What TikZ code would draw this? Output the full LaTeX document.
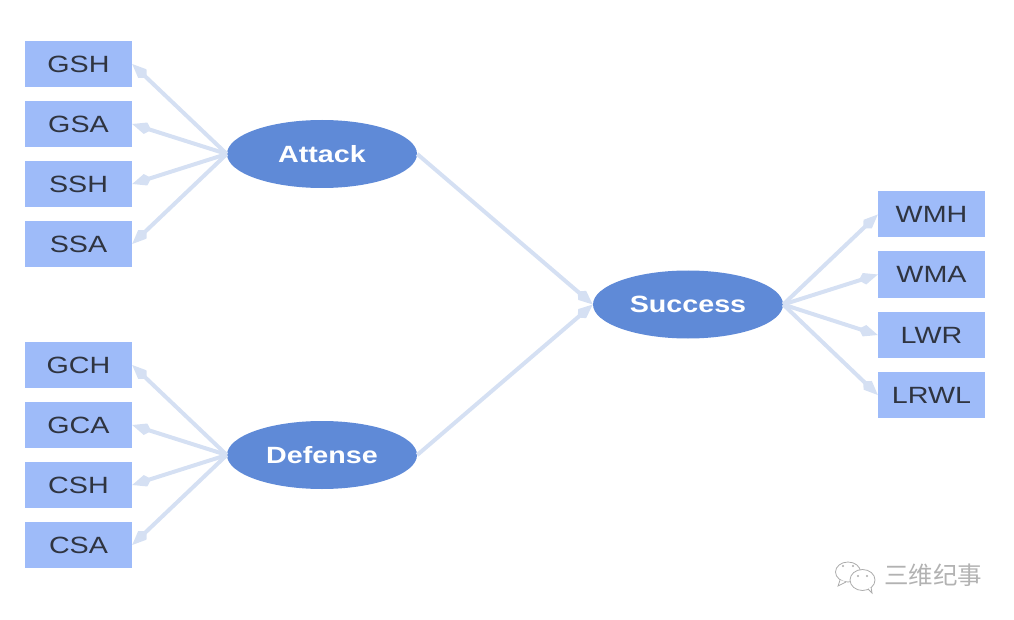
\documentclass[tikz,border=0pt]{standalone}
\usepackage{fontspec}
\usepackage{graphicx}
\setmainfont{Liberation Sans}
\newfontfamily\cjkfont{Noto Sans CJK SC}
\usetikzlibrary{arrows.meta,shapes.geometric}
\definecolor{boxfill}{HTML}{9EBBF9}
\definecolor{ellfill}{HTML}{5F8AD7}
\definecolor{linkcol}{HTML}{D5E0F3}
\definecolor{txtcol}{HTML}{2F3440}
\newcommand{\wide}[1]{\raisebox{-1.2pt}{\scalebox{1.22}[1]{#1}}}
\tikzset{
  obs/.style={draw=none,fill=boxfill,rectangle,minimum width=107pt,minimum height=46pt,inner sep=0pt,text=txtcol,font=\fontsize{23.5}{23.5}\selectfont},
  lat/.style={draw=none,fill=ellfill,ellipse,minimum width=190pt,minimum height=68pt,inner sep=0pt,text=white,font=\fontsize{23.5}{23.5}\selectfont\bfseries},
  link/.style={draw=linkcol,line width=4pt,-{Kite[length=20pt,width=12pt,inset=6pt]}},
  wm/.style={draw=gray!65,line width=0.8pt,fill=white},
}
\begin{document}
\begin{tikzpicture}[x=1pt,y=-1pt]
\useasboundingbox (0,0) rectangle (1014,620);
\foreach \n/\t/\y in {GSH/GSH/64,GSA/GSA/124,SSH/SSH/184,SSA/SSA/244,GCH/GCH/365,GCA/GCA/425,CSH/CSH/485,CSA/CSA/545}
  \node[obs] (\n) at (78.5,\y) {\wide{\t}};
\foreach \n/\t/\y in {WMH/WMH/214.5,WMA/WMA/274.5,LWR/LWR/335,LRWL/LRWL/395}
  \node[obs] (\n) at (931.5,\y) {\wide{\t}};
\node[lat] (Attack) at (322,154) {\wide{Attack}};
\node[lat] (Defense) at (322,455) {\wide{Defense}};
\node[lat] (Success) at (688,304.5) {\wide{Success}};
\foreach \n in {GSH,GSA,SSH,SSA}
  \draw[link] (Attack.west) -- (\n.east);
\foreach \n in {GCH,GCA,CSH,CSA}
  \draw[link] (Defense.west) -- (\n.east);
\foreach \n in {WMH,WMA,LWR,LRWL}
  \draw[link] (Success.east) -- (\n.west);
\draw[link] (Attack.east) -- (Success.west);
\draw[link] (Defense.east) -- (Success.west);
% watermark
\draw[wm] (848,572) ellipse (12.5 and 10);
\draw[wm] (840,580) -- (838,586) -- (846,582);
\fill[gray!65] (843,566) circle (1.1) (853,566) circle (1.1);
\draw[wm] (862.5,580) ellipse (12.5 and 10.5);
\draw[wm] (868,589) -- (872,593) -- (871,587);
\fill[gray!65] (858,576) circle (1.1) (867,576) circle (1.1);
\node[text=gray!60,font=\cjkfont\fontsize{24.5}{24.5}\selectfont,inner sep=0pt] (mark) at (933,575) {三维纪事};
\end{tikzpicture}
\end{document}
